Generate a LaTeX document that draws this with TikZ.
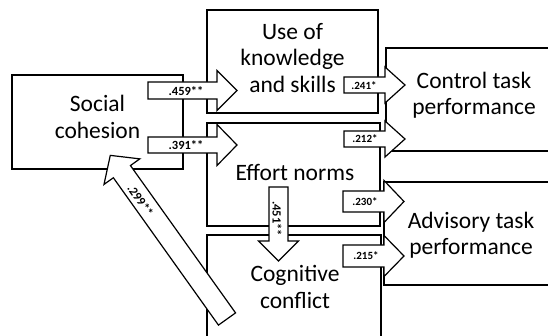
\documentclass[tikz,border=0pt]{standalone}
\usepackage{fontspec}
\setmainfont{Carlito}

\tikzset{
    box/.style={draw, rectangle, line width=1.8pt, inner sep=0pt},
    boxtext/.style={align=center, inner sep=0pt, font=\fontsize{23.5}{26.5}\selectfont},
    fat/.style={draw, fill=white, line width=1.2pt},
    coef/.style={inner sep=0pt, font=\bfseries\fontsize{12.5}{14}\selectfont},
    smallcoef/.style={inner sep=0pt, font=\bfseries\fontsize{11}{12}\selectfont}
}

% 粗箭头: 尾部, 角度, 长度, 杆半宽, 头半宽
\newcommand{\fatarrow}[5]{%
    \begin{scope}[shift={(#1)}, rotate=#2]
        \draw[fat] (0,-#4) -- (#3-20,-#4) -- (#3-20,-#5) -- (#3,0)
            -- (#3-20,#5) -- (#3-20,#4) -- (0,#4) -- cycle;
    \end{scope}}

\begin{document}
    \begin{tikzpicture}[x=1pt, y=-1pt]
        \useasboundingbox (0,0) rectangle (548,336);
        \clip (0,0) rectangle (548,336);

        % 定义六个方框
        \node[box, minimum width=171pt, minimum height=94pt] (cohesion) at (97.5,122) {};
        \node[box, minimum width=171pt, minimum height=103pt] (useks) at (292.5,61.5) {};
        \node[box, minimum width=173pt, minimum height=103pt] (effort) at (293.5,174.5) {};
        \node[box, minimum width=174pt, minimum height=103pt] (conflict) at (294,286.5) {};
        \node[box, minimum width=174pt, minimum height=103pt] (control) at (473,99.5) {};
        \node[box, minimum width=174pt, minimum height=103pt] (advisory) at (471,233.5) {};

        % 方框中的文字
        \node[boxtext] (cohesion-t) at (97.5,117) {Social\\cohesion};
        \node[boxtext] (useks-t) at (292.5,58) {Use of\\knowledge\\and skills};
        \node[boxtext] (effort-t) at (295,172.5) {Effort norms};
        \node[boxtext] (conflict-t) at (295,287) {Cognitive\\conflict};
        \node[boxtext] (control-t) at (474,95) {Control task\\performance};
        \node[boxtext] (advisory-t) at (471,235) {Advisory task\\performance};

        % 箭头的尾部
        \coordinate (t459) at (148,90.5);
        \coordinate (t391) at (148,145);
        \coordinate (t241) at (344,85);
        \coordinate (t212) at (344,139);
        \coordinate (t230) at (343,201.5);
        \coordinate (t215) at (343,256);
        \coordinate (t451) at (278.5,187);
        \coordinate (t299) at (227,319);

        % 绘制粗箭头
        \fatarrow{t459}{0}{89}{8.5}{20}
        \fatarrow{t391}{0}{89}{8}{20.5}
        \fatarrow{t241}{0}{61}{8}{18}
        \fatarrow{t212}{0}{61}{8}{18}
        \fatarrow{t230}{0}{61}{10.5}{21}
        \fatarrow{t215}{0}{61}{11}{20.5}
        \fatarrow{t451}{-90}{74}{9.5}{20}
        \fatarrow{t299}{125.5}{201}{10.5}{22}

        % 路径系数
        \node[coef] (c459) at (186,91) {.459**};
        \node[coef] (c391) at (186,145) {.391**};
        \node[smallcoef] (c241) at (364,86) {.241*};
        \node[smallcoef] (c212) at (365,139) {.212*};
        \node[smallcoef] (c230) at (365,201.5) {.230*};
        \node[smallcoef] (c215) at (366,256) {.215*};
        \node[coef, rotate=-90] (c451) at (277,218.5) {.451**};
        \node[coef, rotate=-54.5] (c299) at (140.5,200.5) {.299**};
    \end{tikzpicture}
\end{document}
